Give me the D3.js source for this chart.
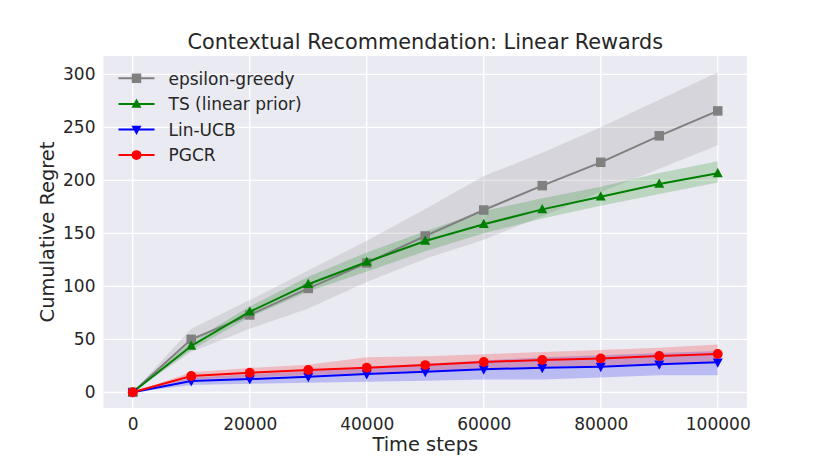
<!DOCTYPE html>
<html>
<head>
<meta charset="utf-8">
<script src="https://cdn.jsdelivr.net/npm/d3@7"></script>
<style>
  body { margin: 0; background: #fff; }
  text { font-family: "DejaVu Sans", sans-serif; fill: #262626; }
</style>
</head>
<body>
<div id="chart"></div>
<script>
// time steps on the x axis
var steps = [0, 10000, 20000, 30000, 40000, 50000, 60000, 70000, 80000, 90000, 100000];

// mean regret per method
var epsMean = [0, 50, 73, 98, 122, 147.5, 172, 195, 217, 242, 265.5];
var tsMean  = [0, 43.7, 76, 102, 123, 142.7, 158.5, 172.6, 184.5, 196.5, 206.6];
var ucbMean = [0, 10.7, 12.5, 14.7, 17.2, 19.4, 21.7, 23.2, 24.2, 26.4, 28.3];
var pgcrMean = [0, 15.4, 18.5, 21, 23.2, 25.7, 28.6, 30.5, 32, 34.2, 36.1];

// shaded bands (lower / upper)
var epsLow  = [0, 38, 60, 79, 104, 126, 144, 166, 189, 211, 233];
var epsHigh = [0, 60, 87, 115, 143, 173, 204, 226, 250, 276, 302];
var tsLow   = [0, 40, 71, 95, 114, 133, 150, 164, 176, 187, 198];
var tsHigh  = [0, 48, 81, 109, 132, 152, 171, 183, 194, 207, 218];
var ucbLow  = [0, 7, 8, 9, 10, 11, 12, 12, 14, 16, 16];
var ucbHigh = [0, 14, 17, 20, 24, 27, 30, 33, 35, 37, 39];
var pgcrLow  = [0, 12, 14, 16, 18, 20, 22, 24, 25, 27, 28];
var pgcrHigh = [0, 19, 23, 26, 33, 34, 36, 38, 40, 42, 45];

var xTicks = [0, 20000, 40000, 60000, 80000, 100000];
var yTicks = [0, 50, 100, 150, 200, 250, 300];

var seriesNames = ["epsilon-greedy", "TS (linear prior)", "Lin-UCB", "PGCR"];
var seriesColors = ["#808080", "#008000", "#0000ff", "#ff0000"];
var seriesMarkers = ["square", "triangle", "triangleDown", "circle"];

var W = 830, H = 467;
var margin = {top: 56, right: 83, bottom: 59, left: 103.5};
var width = W - margin.left - margin.right;
var height = H - margin.top - margin.bottom;

var svg = d3.select("#chart").append("svg")
    .attr("width", W)
    .attr("height", H);

var chart = svg.append("g")
    .attr("transform", "translate(" + margin.left + "," + margin.top + ")");

var xScale = d3.scaleLinear().domain([-5000, 105000]).range([0, width]);
var yScale = d3.scaleLinear().domain([-14.8, 317.3]).range([height, 0]);

chart.append("rect")
    .attr("width", width)
    .attr("height", height)
    .attr("fill", "#eaeaf2");

// grid
chart.selectAll(".vgrid").data(xTicks).enter().append("line")
    .attr("x1", function(d) { return xScale(d); })
    .attr("x2", function(d) { return xScale(d); })
    .attr("y1", 0).attr("y2", height)
    .attr("stroke", "#fff").attr("stroke-width", 1.3);
chart.selectAll(".hgrid").data(yTicks).enter().append("line")
    .attr("y1", function(d) { return yScale(d); })
    .attr("y2", function(d) { return yScale(d); })
    .attr("x1", 0).attr("x2", width)
    .attr("stroke", "#fff").attr("stroke-width", 1.3);

// axes
var xAxis = d3.axisBottom(xScale).tickValues(xTicks).tickSize(0).tickPadding(10)
    .tickFormat(d3.format("d"));
var yAxis = d3.axisLeft(yScale).tickValues(yTicks).tickSize(0).tickPadding(8);

var gx = chart.append("g")
    .attr("transform", "translate(0," + height + ")")
    .call(xAxis);
var gy = chart.append("g").call(yAxis);
[gx, gy].forEach(function(g) {
    g.select(".domain").remove();
    g.selectAll("text").style("font-size", "17px").attr("fill", "#262626");
});

var series = [
    {mean: epsMean, low: epsLow, high: epsHigh},
    {mean: tsMean, low: tsLow, high: tsHigh},
    {mean: ucbMean, low: ucbLow, high: ucbHigh},
    {mean: pgcrMean, low: pgcrLow, high: pgcrHigh}
];

var area = d3.area()
    .x(function(d) { return xScale(d.x); })
    .y0(function(d) { return yScale(d.lo); })
    .y1(function(d) { return yScale(d.hi); });
var line = d3.line()
    .x(function(d) { return xScale(d.x); })
    .y(function(d) { return yScale(d.y); });

function markerPath(type, size) {
    var s = size / 2;
    if (type == "square") return "M" + (-s) + "," + (-s) + "h" + size + "v" + size + "h" + (-size) + "Z";
    if (type == "triangle") return "M0," + (-s * 1.15) + "L" + (s * 1.05) + "," + (s * 0.8) + "L" + (-s * 1.05) + "," + (s * 0.8) + "Z";
    if (type == "triangleDown") return "M0," + (s * 1.15) + "L" + (s * 1.05) + "," + (-s * 0.8) + "L" + (-s * 1.05) + "," + (-s * 0.8) + "Z";
    return d3.symbol().type(d3.symbolCircle).size(size * size * 0.85)();
}

series.forEach(function(s, i) {
    var bandData = steps.map(function(x, j) { return {x: x, lo: s.low[j], hi: s.high[j]}; });
    chart.append("path")
        .attr("d", area(bandData))
        .attr("fill", seriesColors[i])
        .attr("fill-opacity", 0.2);
});

series.forEach(function(s, i) {
    var pts = steps.map(function(x, j) { return {x: x, y: s.mean[j]}; });
    chart.append("path")
        .attr("d", line(pts))
        .attr("fill", "none")
        .attr("stroke", seriesColors[i])
        .attr("stroke-width", 2);
    chart.selectAll(".m" + i).data(pts).enter().append("path")
        .attr("transform", function(d) { return "translate(" + xScale(d.x) + "," + yScale(d.y) + ")"; })
        .attr("d", markerPath(seriesMarkers[i], 9.5))
        .attr("fill", seriesColors[i]);
});

// legend
var legend = chart.append("g").attr("transform", "translate(15,22.3)");
seriesNames.forEach(function(name, i) {
    var row = legend.append("g").attr("transform", "translate(0," + (i * 25.6) + ")");
    row.append("line").attr("x1", 0).attr("x2", 36).attr("y1", 0).attr("y2", 0)
        .attr("stroke", seriesColors[i]).attr("stroke-width", 2);
    row.append("path").attr("transform", "translate(18,0)")
        .attr("d", markerPath(seriesMarkers[i], 9.5))
        .attr("fill", seriesColors[i]);
    row.append("text").attr("x", 50).attr("y", 6.2)
        .style("font-size", "17px").text(name);
});

// titles
svg.append("text")
    .attr("x", margin.left + width / 2).attr("y", 49)
    .attr("text-anchor", "middle")
    .style("font-size", "20.8px")
    .text("Contextual Recommendation: Linear Rewards");
svg.append("text")
    .attr("x", margin.left + width / 2).attr("y", 451)
    .attr("text-anchor", "middle")
    .style("font-size", "19.4px")
    .text("Time steps");
svg.append("text")
    .attr("transform", "translate(54," + (margin.top + height / 2) + ") rotate(-90)")
    .attr("text-anchor", "middle")
    .style("font-size", "19.4px")
    .text("Cumulative Regret");
</script>
</body>
</html>
